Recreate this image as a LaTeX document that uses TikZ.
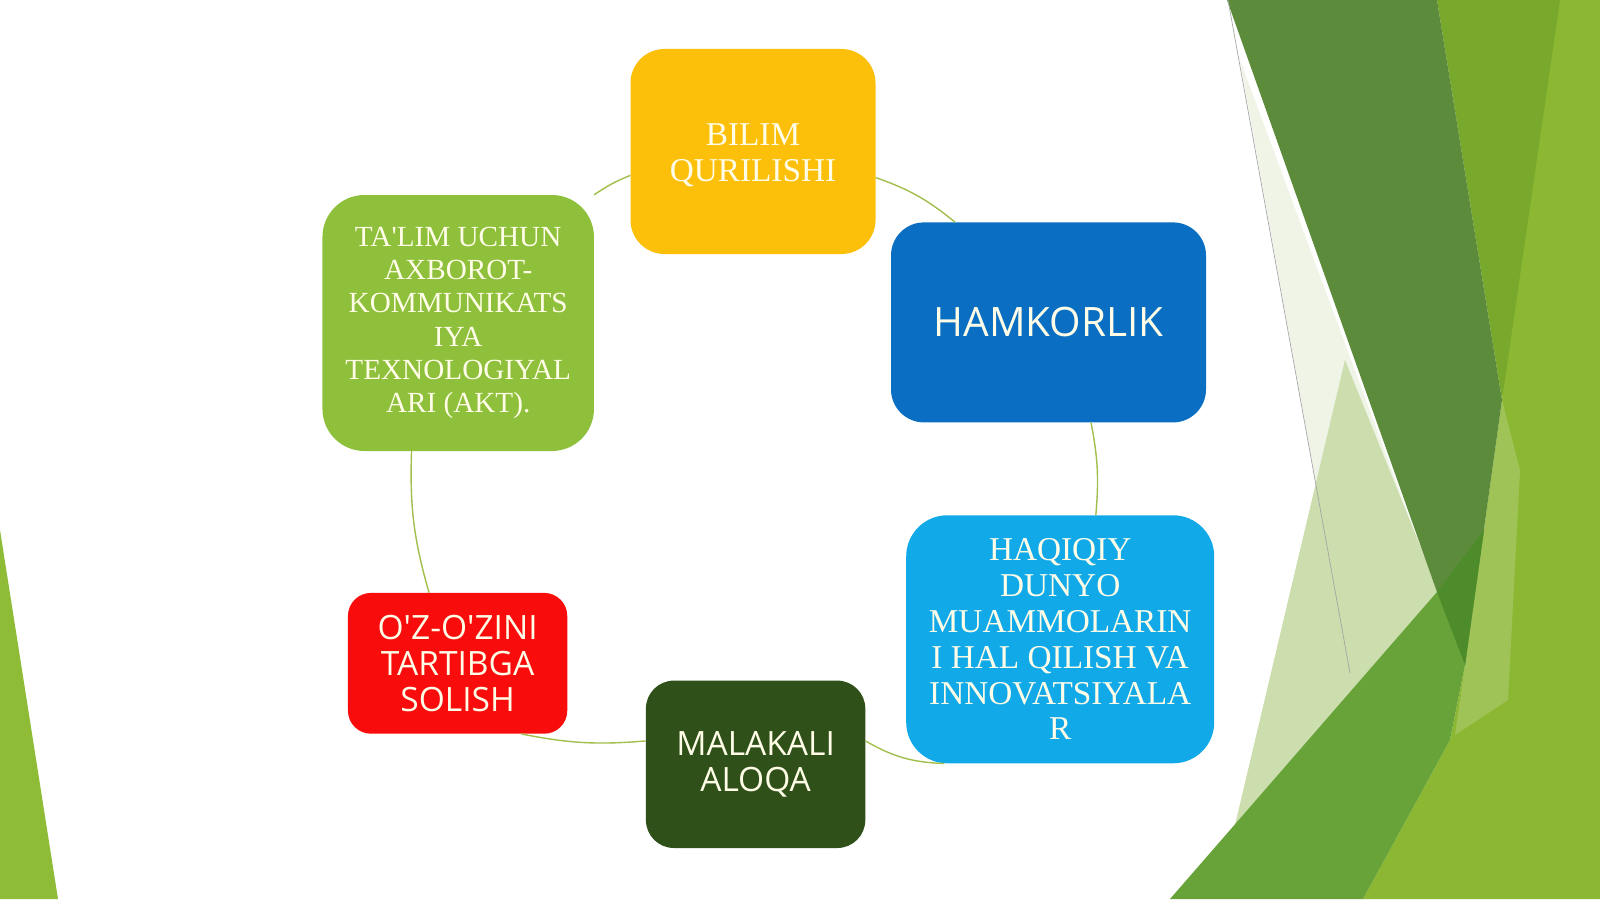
\documentclass[tikz,border=0pt]{standalone}
\usepackage{fontspec}
\setmainfont{Liberation Serif}
\newfontfamily\osans{Open Sans}
\definecolor{cbil}{HTML}{FDC00A}
\definecolor{ctal}{HTML}{8FC03C}
\definecolor{cham}{HTML}{0A6FC2}
\definecolor{chaq}{HTML}{12A9E8}
\definecolor{coz}{HTML}{F80C0C}
\definecolor{cmal}{HTML}{2F5119}
\definecolor{txt}{HTML}{FFFDE8}
\definecolor{lnk}{HTML}{A2BE4C}
\definecolor{gright}{HTML}{8BB732}
\definecolor{gtop}{HTML}{79A92C}
\definecolor{gdark}{HTML}{5C8B3B}
\definecolor{gband}{HTML}{68A33A}
\definecolor{gdeep}{HTML}{4E8B2B}
\definecolor{gpale}{HTML}{CCDDAE}
\definecolor{gwisp}{HTML}{EFF4E6}
\definecolor{gleft}{HTML}{8EBC36}
\begin{document}
\begin{tikzpicture}[x=1pt,y=-1pt,
  box/.style={rectangle, inner sep=0pt, align=center, text=txt},
  link/.style={draw=lnk, line width=1.4pt},
  serifA/.style={font=\fontsize{33.3}{35.8}\selectfont},
  serifB/.style={font=\fontsize{29.2}{33.2}\selectfont},
  sansA/.style={font=\osans\fontsize{33.5}{36}\selectfont},
  sansB/.style={font=\osans\fontsize{40.5}{44}\selectfont}]
\useasboundingbox (0,0) rectangle (1600,899);
\fill[white] (0,0) rectangle (1600,899);
% background facets
\fill[gleft] (0,530) -- (58,899) -- (0,899) -- cycle;
\fill[gright] (1545,0) -- (1600,0) -- (1600,899) -- (1363,899) -- (1450,740) -- (1465,665) -- (1502,400) -- cycle;
\fill[gtop] (1437,0) -- (1560,0) -- (1502,400) -- cycle;
\fill[white!60!gright, opacity=0.3] (1502,400) -- (1520,470) -- (1508,700) -- (1455,735) -- (1465,665) -- cycle;
\fill[gwisp] (1240,60) -- (1437,592) -- (1350,673) -- cycle;
\fill[gpale] (1345,360) -- (1440,595) -- (1235,825) -- cycle;
\fill[gdark] (1227,0) -- (1437,0) -- (1502,400) -- (1465,665) -- (1437,592) -- cycle;
\fill[gband] (1170,899) -- (1437,592) -- (1484,530) -- (1465,665) -- (1450,740) -- (1363,899) -- cycle;
\fill[gdeep] (1437,592) -- (1484,530) -- (1465,665) -- cycle;
\draw[line width=0.7pt, color=black!35] (1228,0) -- (1350,673);
% boxes
\node[box, serifA, fill=cbil, minimum width=245pt, minimum height=205pt, rounded corners=34pt] (bil) at (753,151.5) {\raisebox{-5pt}[\height][\depth]{\begin{tabular}{@{}c@{}}BILIM\\QURILISHI\end{tabular}}};
\node[box, sansB, fill=cham, minimum width=315pt, minimum height=200pt, rounded corners=33pt] (ham) at (1048.5,322.4) {HAMKORLIK};
\node[box, serifA, fill=chaq, minimum width=308pt, minimum height=248pt, rounded corners=41pt] (haq) at (1060.2,639.3) {HAQIQIY\\DUNYO\\MUAMMOLARIN\\I HAL QILISH VA\\INNOVATSIYALA\\R};
\node[box, sansA, fill=cmal, minimum width=219.4pt, minimum height=167.4pt, rounded corners=28pt] (mal) at (755.6,764.3) {MALAKALI\\ALOQA};
\node[box, sansA, fill=coz, minimum width=219.3pt, minimum height=140.8pt, rounded corners=23pt] (oz) at (457.6,663.3) {O\textquotesingle Z-O\textquotesingle ZINI\\TARTIBGA\\SOLISH};
\node[box, serifB, fill=ctal, minimum width=271.5pt, minimum height=256pt, rounded corners=42pt] (tal) at (458.2,323) {TA\textquotesingle LIM UCHUN\\AXBOROT-\\KOMMUNIKATS\\IYA\\TEXNOLOGIYAL\\ARI (AKT).};
% connectors
\draw[link] (tal.north east) to[bend left=6] (bil.191.5);
\draw[link] (bil.-12.4) to[bend left=10] (ham.133);
\draw[link] (ham.-67.6) to[bend left=8] (haq.74.3);
\draw[link] (haq.227) to[bend left=14] (mal.12);
\draw[link] (mal.168.5) to[bend left=8] (oz.-48.4);
\draw[link] (oz.112.8) to[bend left=9] (tal.250.5);
\end{tikzpicture}
\end{document}
